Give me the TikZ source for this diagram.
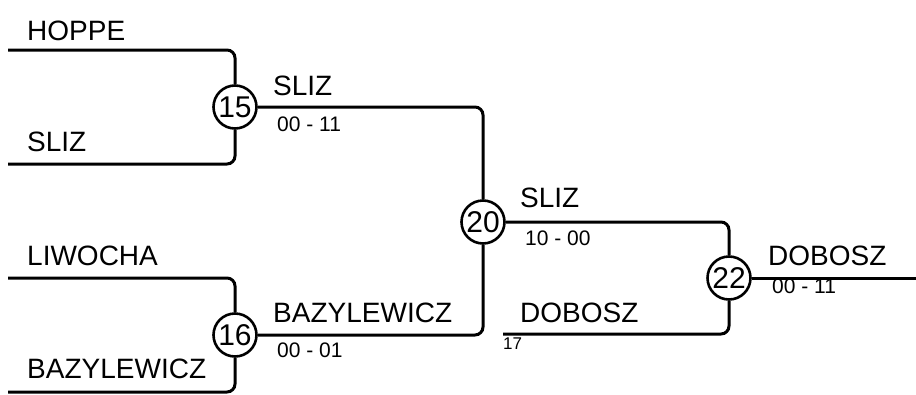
\documentclass[tikz,border=0pt]{standalone}
\usepackage{fontspec}
\setmainfont{Liberation Sans}
\usetikzlibrary{positioning}

\begin{document}
\begin{tikzpicture}[x=1pt,y=-1pt,
  game/.style={circle,draw,line width=2.6pt,minimum size=43pt,inner sep=0pt,font=\fontsize{30}{30}\selectfont},
  wire/.style={line width=3pt,rounded corners=8pt},
  player/.style={anchor=west,inner sep=0pt,font=\fontsize{28}{28}\selectfont},
  score/.style={anchor=west,inner sep=0pt,font=\fontsize{21}{21}\selectfont}]
\useasboundingbox (0,0) rectangle (916,394);
% games
\node[game] (m15) at (235,107) {15};
\node[game] (m16) at (235,335) {16};
\node[game] (m20) at (483,222) {20};
\node[game] (m22) at (729,278) {22};
% free ends
\coordinate (hoppe) at (8,50);
\coordinate (sliz) at (8,164);
\coordinate (liwocha) at (8,278);
\coordinate (bazyl) at (8,392);
\coordinate (dobosz) at (503,334);
\coordinate (final) at (916,278);
% lines
\draw[wire] (hoppe) -| (m15);
\draw[wire] (sliz) -| (m15);
\draw[wire] (liwocha) -| (m16);
\draw[wire] (bazyl) -| (m16);
\draw[wire] (m15) -| (m20);
\draw[wire] (m16) -| (m20);
\draw[wire] (m20) -| (m22);
\draw[wire] (dobosz) -| (m22);
\draw[wire] (m22) -- (final);
% names
\node[player] (nhoppe) at (27,31) {HOPPE};
\node[player] (nsliz) at (27,142) {SLIZ};
\node[player] (nliwocha) at (27,256) {LIWOCHA};
\node[player] (nbazyl) at (27,369) {BAZYLEWICZ};
\node[player] (w15) at (273,86) {SLIZ};
\node[player] (w16) at (273,313) {BAZYLEWICZ};
\node[player] (w20) at (520,198) {SLIZ};
\node[player] (ndobosz) at (520,313) {DOBOSZ};
\node[player] (w22) at (768,256) {DOBOSZ};
% scores
\node[score] (s15) at (277,124) {00 - 11};
\node[score] (s16) at (277,350) {00 - 01};
\node[score] (s20) at (525,238) {10 - 00};
\node[score] (s22) at (772,286) {00 - 11};
\node[anchor=west,inner sep=0pt,font=\fontsize{17}{17}\selectfont] (n17) at (503,344) {17};
\end{tikzpicture}
\end{document}
